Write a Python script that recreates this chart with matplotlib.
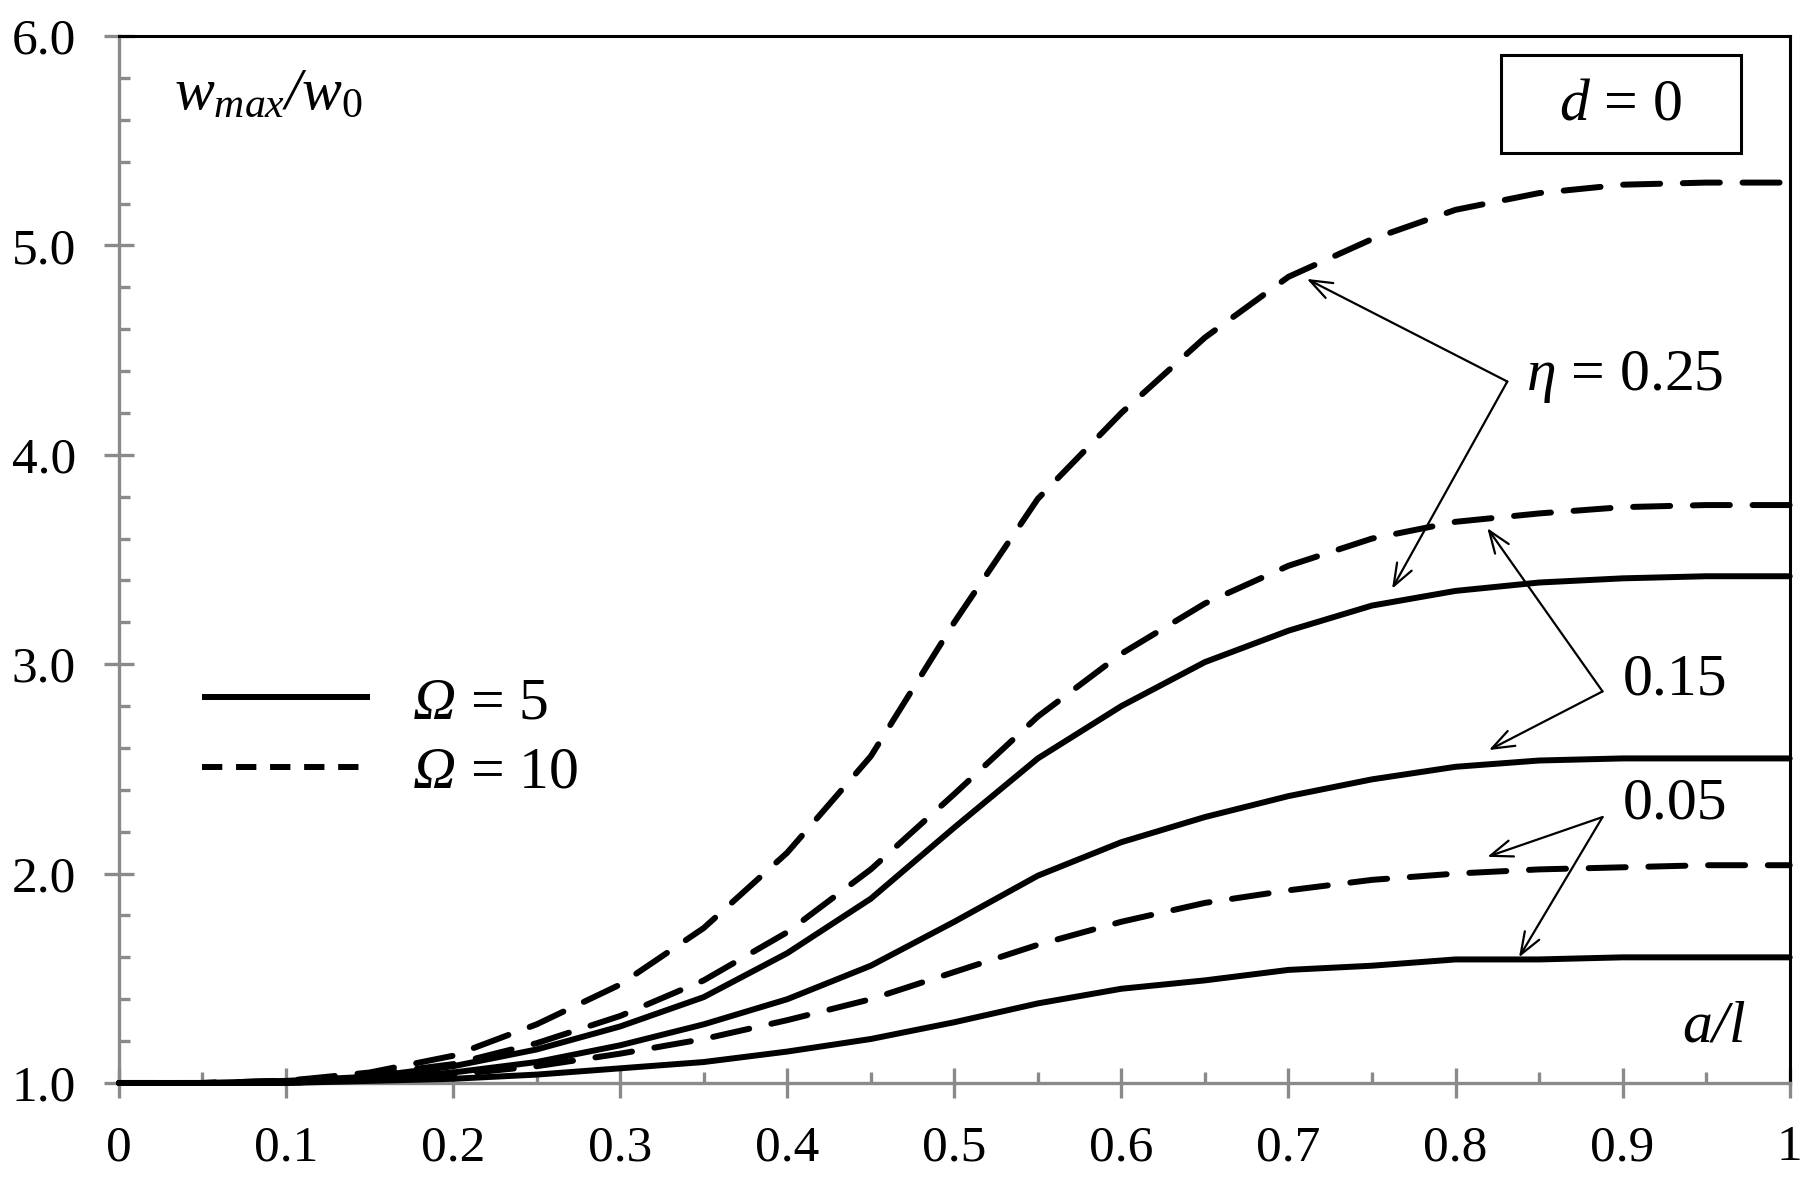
import matplotlib
matplotlib.use("Agg")
import matplotlib.pyplot as plt
from matplotlib.patches import Rectangle
from matplotlib.lines import Line2D
from matplotlib.ticker import FixedLocator, MultipleLocator, FixedFormatter

plt.rcParams['font.family'] = ['Liberation Serif', 'DejaVu Serif']
plt.rcParams['mathtext.fontset'] = 'custom'
# capital Greek letters are drawn with the 'rm' math font -> make it italic
plt.rcParams['mathtext.rm'] = 'Liberation Serif:italic'
plt.rcParams['mathtext.it'] = 'Liberation Serif:italic'
plt.rcParams['mathtext.sf'] = 'Liberation Serif'

# ---------------- data ----------------
a_l = [0, .05, .1, .15, .2, .25, .3, .35, .4, .45, .5, .55, .6, .65, .7, .75, .8, .85, .9, .95, 1.0]

# Omega = 5 (solid)
w5_eta025 = [1.00, 1.00, 1.01, 1.03, 1.08, 1.16, 1.27, 1.41, 1.62, 1.88, 2.22, 2.55, 2.80, 3.01, 3.16, 3.28, 3.35, 3.39, 3.41, 3.42, 3.42]
w5_eta015 = [1.00, 1.00, 1.00, 1.02, 1.05, 1.10, 1.18, 1.28, 1.40, 1.56, 1.77, 1.99, 2.15, 2.27, 2.37, 2.45, 2.51, 2.54, 2.55, 2.55, 2.55]
w5_eta005 = [1.00, 1.00, 1.00, 1.01, 1.02, 1.04, 1.07, 1.10, 1.15, 1.21, 1.29, 1.38, 1.45, 1.49, 1.54, 1.56, 1.59, 1.59, 1.60, 1.60, 1.60]

# Omega = 10 (dashed)
w10_eta025 = [1.00, 1.00, 1.01, 1.05, 1.13, 1.28, 1.47, 1.74, 2.10, 2.56, 3.20, 3.79, 4.20, 4.56, 4.85, 5.03, 5.17, 5.25, 5.29, 5.30, 5.30]
w10_eta015 = [1.00, 1.00, 1.01, 1.04, 1.09, 1.19, 1.32, 1.49, 1.72, 2.02, 2.38, 2.75, 3.05, 3.29, 3.47, 3.60, 3.68, 3.72, 3.75, 3.76, 3.76]
w10_eta005 = [1.00, 1.00, 1.00, 1.02, 1.04, 1.08, 1.14, 1.21, 1.30, 1.40, 1.53, 1.66, 1.77, 1.86, 1.92, 1.97, 2.00, 2.02, 2.03, 2.04, 2.04]

x_ticks = [0, 0.1, 0.2, 0.3, 0.4, 0.5, 0.6, 0.7, 0.8, 0.9, 1.0]
x_tick_labels = ["0", "0.1", "0.2", "0.3", "0.4", "0.5", "0.6", "0.7", "0.8", "0.9", "1"]
y_ticks = [1, 2, 3, 4, 5, 6]
y_tick_labels = ["1.0", "2.0", "3.0", "4.0", "5.0", "6.0"]

legend_labels = [r"$\Omega$ = 5", r"$\Omega$ = 10"]
eta_labels = [r"$\eta$ = 0.25", "0.15", "0.05"]

# ---------------- figure ----------------
fig = plt.figure(figsize=(18.16, 11.81), dpi=100)
ax = fig.add_axes([0.0655, 0.083, 0.92, 0.8865])

LW = 4.3
dash = (0, (6.2, 3.8))
kw_s = dict(color='black', lw=LW, solid_capstyle='round', zorder=4, clip_on=False)
kw_d = dict(color='black', lw=LW, linestyle=dash, dash_capstyle='round', zorder=4, clip_on=False)

ax.plot(a_l, w5_eta025, **kw_s)
ax.plot(a_l, w5_eta015, **kw_s)
ax.plot(a_l, w5_eta005, **kw_s)
ax.plot(a_l, w10_eta025, **kw_d)
ax.plot(a_l, w10_eta015, **kw_d)
ax.plot(a_l, w10_eta005, **kw_d)

ax.set_xlim(0, 1)
ax.set_ylim(1, 6)

gray = '#8a8a8a'
for s in ['left', 'bottom']:
    ax.spines[s].set_color(gray)
    ax.spines[s].set_linewidth(2.4)
for s in ['top', 'right']:
    ax.spines[s].set_color('black')
    ax.spines[s].set_linewidth(2.2)

ax.xaxis.set_major_locator(FixedLocator(x_ticks))
ax.xaxis.set_major_formatter(FixedFormatter(x_tick_labels))
ax.xaxis.set_minor_locator(MultipleLocator(0.05))
ax.yaxis.set_major_locator(FixedLocator(y_ticks))
ax.yaxis.set_major_formatter(FixedFormatter(y_tick_labels))
ax.yaxis.set_minor_locator(MultipleLocator(0.2))

ax.tick_params(which='major', direction='inout', length=22, width=2.4, color=gray,
               labelsize=37, labelcolor='black')
ax.tick_params(which='minor', direction='in', length=8, width=2.4, color=gray)
ax.tick_params(axis='x', which='major', pad=19)
ax.tick_params(axis='y', which='major', pad=20)

FS = 43

# axis titles
ax.text(0.033, 5.65, r"$w_{max}/w_{\mathsf{0}}$", fontsize=FS, ha='left', va='baseline')
ax.text(0.974, 1.20, r"$a/l$", fontsize=FS, ha='right', va='baseline')

# d = 0 box
ax.add_patch(Rectangle((0.827, 5.44), 0.144, 0.47, fill=False, ec='black', lw=2.2, zorder=5))
ax.text(0.899, 5.67, r"$d$ = 0", fontsize=FS, ha='center', va='center')

# eta labels and arrows
label_pos = [(0.842, 4.37), (0.900, 2.92), (0.900, 2.33)]
arrow_starts = [(0.831, 4.35), (0.888, 2.87), (0.888, 2.27)]
arrow_tips = [[(0.711, 4.84), (0.762, 3.36)],
              [(0.819, 3.65), (0.820, 2.59)],
              [(0.819, 2.08), (0.838, 1.60)]]

for lab, pos, st, tips in zip(eta_labels, label_pos, arrow_starts, arrow_tips):
    ax.text(pos[0], pos[1], lab, fontsize=FS, ha='left', va='center')
    for tp in tips:
        ax.annotate("", xy=tp, xytext=st,
                    arrowprops=dict(arrowstyle='->,head_length=0.8,head_width=0.3',
                                    color='black', lw=1.6, shrinkA=0, shrinkB=0,
                                    mutation_scale=20))

# legend (proxy handles: legend dashes are square-ended, as in the original)
h5 = Line2D([], [], color='black', lw=LW, solid_capstyle='butt')
h10 = Line2D([], [], color='black', lw=LW, linestyle=(0, (3.4, 2.3)), dash_capstyle='butt')
ax.legend([h5, h10], legend_labels, loc='center left',
          bbox_to_anchor=(0.05, 2.645), bbox_transform=ax.transData,
          frameon=False, fontsize=FS, handlelength=2.8, handletextpad=0.7,
          borderpad=0, borderaxespad=0, labelspacing=0.25)

fig.savefig("out.png", dpi=100)
